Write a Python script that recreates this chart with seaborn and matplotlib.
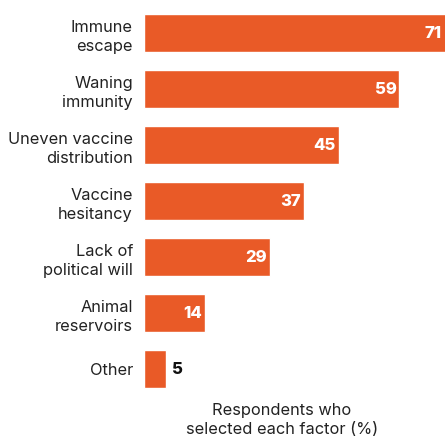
import matplotlib
matplotlib.use("Agg")
import matplotlib.pyplot as plt
import seaborn as sns
import pandas as pd

categories = ["Immune\nescape", "Waning\nimmunity", "Uneven vaccine\ndistribution",
              "Vaccine\nhesitancy", "Lack of\npolitical will", "Animal\nreservoirs", "Other"]
values = [71, 59, 45, 37, 29, 14, 5]
xlabel = "Respondents who\nselected each factor (%)"

sns.set_theme(style="white")
plt.rcParams['font.family'] = ['Inter', 'DejaVu Sans']

df = pd.DataFrame({"factor": categories, "pct": values})
color = "#E95A27"

W, H = 445, 436
fig = plt.figure(figsize=(W / 100, H / 100), dpi=100)
ax = fig.add_axes([144 / W, 1 - 397 / H, (W - 144) / W, 392 / H])

sns.barplot(data=df, x="pct", y="factor", orient="h", color=color,
            width=0.68, saturation=1, ax=ax)

ax.set_xlim(0, 301 / 4.33)
ax.set_ylim(6.5, -0.5)
for s in ax.spines.values():
    s.set_visible(False)
ax.set_xticks([])
ax.set_xlabel("")
ax.set_ylabel("")
ax.tick_params(axis="y", length=0, pad=8)
for lab in ax.get_yticklabels():
    lab.set_fontsize(11.8)
    lab.set_color("#222222")
    lab.set_linespacing(1.35)

for i, v in enumerate(values):
    if v >= 10:
        ax.text(min(v, 301 / 4.33) - 0.7, i, str(v), ha="right", va="center",
                color="white", fontsize=12, fontweight="heavy")
    else:
        ax.text(v + 1.4, i, str(v), ha="left", va="center",
                color="#111111", fontsize=12, fontweight="heavy")

fig.text(282 / W, 1 - 420 / H, xlabel, ha="center", va="center",
         fontsize=11.8, color="#222222", linespacing=1.3)

fig.savefig("out.png", dpi=100)
